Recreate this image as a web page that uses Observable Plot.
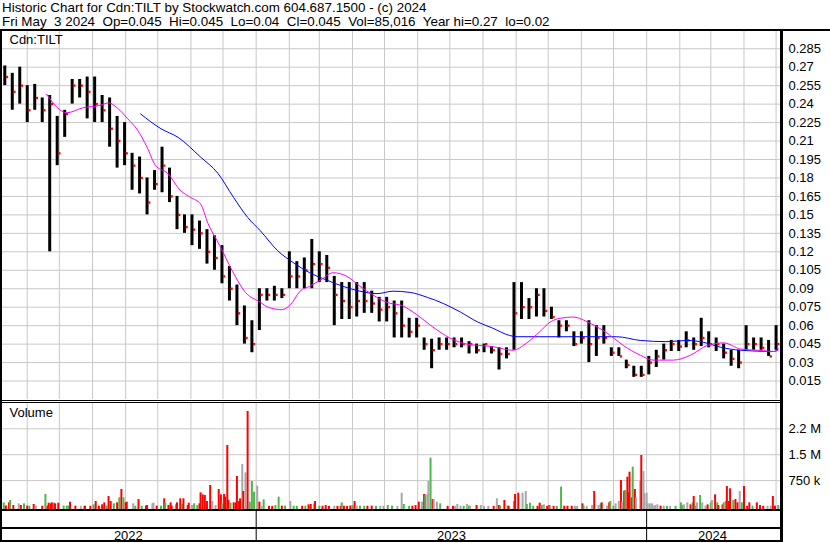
<!DOCTYPE html>
<html><head><meta charset="utf-8">
<script src="https://cdn.jsdelivr.net/npm/d3@7"></script>
<script src="https://cdn.jsdelivr.net/npm/@observablehq/plot@0.6"></script>
<style>
body{margin:0;background:#fff;}
#wrap{position:relative;width:830px;height:543px;overflow:hidden;font-family:"Liberation Sans",Arial,sans-serif;background:#fff;}
.ln{position:absolute;background:#000;}
.hdr{position:absolute;left:2px;font-size:13.4px;white-space:pre;line-height:14px;color:#000;}
#wrap svg{position:absolute;left:0;}
</style></head><body><div id="wrap"></div>
<script>
// ---------- header text ----------
const titleLine = "Historic Chart for Cdn:TILT by Stockwatch.com 604.687.1500 - (c) 2024";
const quoteLine = "Fri May  3 2024  Op=0.045  Hi=0.045  Lo=0.04  Cl=0.045  Vol=85,016  Year hi=0.27  lo=0.02";
const symbolLabel = "Cdn:TILT";
const volumeLabel = "Volume";

// ---------- axes ----------
const xStart = "2022-05-07", xEnd = "2024-05-07";
const priceTicks = [0.015,0.03,0.045,0.06,0.075,0.09,0.105,0.12,0.135,0.15,0.165,0.18,0.195,0.21,0.225,0.24,0.255,0.27,0.285];
const volTicks = [750000, 1500000, 2250000];
const volTickLabels = ["750 k", "1.5 M", "2.2 M"];
const monthGrid = ["2022-06-01","2022-07-01","2022-08-01","2022-09-01","2022-10-01","2022-11-01","2022-12-01",
  "2023-01-01","2023-02-01","2023-03-01","2023-04-01","2023-05-01","2023-06-01","2023-07-01","2023-08-01",
  "2023-09-01","2023-10-01","2023-11-01","2023-12-01","2024-01-01","2024-02-01","2024-03-01","2024-04-01","2024-05-01"];
const yearStarts = ["2023-01-01","2024-01-01"];
const yearNames = ["2022","2023","2024"];

// ---------- weekly price bars (week of Monday, from 2022-05-09) ----------
const firstWeek = "2022-05-09";
const weekHigh = [.271,.265,.27,.255,.256,.245,.247,.23,.235,.26,.26,.262,.262,.247,.245,.23,.225,.2,.197,.18,
  .186,.205,.188,.165,.15,.15,.145,.138,.133,.125,.108,.093,.076,.064,.09,.09,.092,.09,.12,.112,
  .115,.13,.12,.117,.1,.095,.095,.095,.095,.088,.083,.083,.08,.08,.066,.066,.05,.049,.05,.05,
  .05,.05,.047,.045,.045,.043,.042,.042,.095,.095,.082,.09,.09,.075,.064,.064,.055,.055,.064,.06,
  .06,.042,.042,.032,.027,.027,.035,.04,.045,.048,.048,.055,.05,.066,.055,.05,.045,.04,.04,.06,
  .05,.05,.048,.06];
const weekLow = [.255,.235,.24,.225,.235,.225,.12,.19,.213,.24,.245,.228,.225,.225,.205,.188,.19,.17,.167,.15,
  .17,.168,.16,.138,.135,.125,.122,.11,.105,.094,.08,.06,.045,.038,.056,.08,.08,.082,.09,.09,
  .09,.09,.095,.095,.06,.065,.065,.067,.07,.07,.063,.063,.05,.05,.05,.05,.04,.025,.04,.04,
  .042,.042,.037,.037,.038,.037,.024,.033,.04,.065,.065,.067,.067,.065,.05,.055,.043,.045,.03,.035,
  .045,.035,.035,.025,.018,.018,.02,.026,.032,.039,.039,.042,.04,.043,.042,.039,.033,.027,.025,.04,
  .04,.04,.035,.04];
const weekClose = [.262,.25,.255,.235,.245,.235,.24,.2,.232,.255,.255,.25,.24,.235,.22,.21,.2,.19,.18,.16,
  .175,.19,.165,.15,.14,.138,.135,.12,.115,.1,.09,.07,.05,.045,.085,.085,.085,.085,.1,.1,
  .105,.11,.11,.107,.085,.08,.075,.08,.08,.078,.073,.075,.07,.06,.055,.06,.045,.04,.045,.045,
  .045,.045,.045,.04,.045,.04,.037,.037,.07,.075,.075,.085,.072,.067,.06,.06,.045,.05,.045,.05,
  .05,.038,.035,.028,.02,.02,.03,.035,.04,.045,.043,.048,.045,.05,.045,.045,.038,.033,.03,.045,
  .045,.042,.035,.045];

// ---------- moving averages ----------
const maShortDates = ["2022-06-19","2022-07-08","2022-07-23","2022-08-08","2022-08-16","2022-08-24","2022-09-03","2022-09-12","2022-09-21","2022-09-29",
  "2022-10-10","2022-10-22","2022-11-01","2022-11-10","2022-11-17","2022-11-28","2022-12-10","2022-12-22","2023-01-05","2023-01-12",
  "2023-01-25","2023-02-02","2023-02-11","2023-02-20","2023-03-02","2023-03-14","2023-03-27","2023-04-08","2023-04-20","2023-05-03",
  "2023-05-18","2023-05-31","2023-06-15","2023-07-01","2023-07-17","2023-08-10","2023-08-29","2023-09-11","2023-09-23","2023-10-03",
  "2023-10-12","2023-10-24","2023-11-09","2023-11-25","2023-12-10","2023-12-26","2024-01-07","2024-01-26","2024-02-11","2024-02-27",
  "2024-03-13","2024-03-29","2024-04-14","2024-04-29","2024-05-03"];
const maShortValues = [.248,.233,.237,.239,.241,.237,.228,.219,.205,.19,
  .184,.17,.164,.159,.143,.125,.104,.087,.079,.075,
  .073,.077,.088,.092,.097,.103,.1,.092,.085,.079,
  .076,.069,.059,.05,.045,.043,.04,.046,.055,.063,
  .066,.067,.062,.054,.044,.036,.032,.032,.036,.044,
  .046,.041,.04,.039,.04];
const maLongDates = ["2022-09-15","2022-10-04","2022-10-20","2022-11-10","2022-11-26","2022-12-11","2022-12-24","2023-01-05","2023-01-21","2023-02-05",
  "2023-02-20","2023-03-08","2023-03-23","2023-04-08","2023-04-24","2023-05-09","2023-05-25","2023-06-10","2023-06-25","2023-07-11",
  "2023-07-27","2023-08-10","2023-08-26","2023-09-02","2023-09-23","2023-10-31","2023-12-04","2023-12-26","2024-01-20","2024-02-08",
  "2024-02-23","2024-03-10","2024-03-29","2024-04-29","2024-05-03"];
const maLongValues = [.232,.22,.213,.197,.184,.164,.148,.137,.121,.111,
  .103,.097,.092,.088,.086,.088,.087,.083,.078,.071,
  .063,.058,.052,.051,.051,.051,.051,.048,.047,.048,
  .0465,.0425,.04,.039,.041];

// ---------- daily volume (days after xStart, thousands of shares, r=down g=up n=unchanged) ----------
const volDay = [3,5,8,9,12,17,19,22,25,27,31,33,39,42,44,45,47,48,50,51,54,59,62,64,65,70,75,78,79,84,87,89,92,95,97,99,101,103,106,109,
  111,113,115,117,118,124,126,129,132,136,137,142,143,146,150,153,154,157,159,160,164,165,168,170,171,175,176,179,181,184,186,187,189,191,193,196,198,201,204,206,
  207,209,210,212,213,215,218,220,221,223,224,226,227,229,231,233,235,237,240,242,244,246,251,254,257,260,263,266,271,274,277,282,285,288,290,293,294,298,301,304,
  307,312,315,318,319,321,324,327,329,331,333,336,340,343,347,351,355,358,362,366,371,375,377,382,385,388,391,394,396,397,399,400,402,404,405,408,411,418,423,425,
  427,430,433,436,438,439,445,449,452,456,461,464,466,467,471,474,475,480,481,484,488,491,492,495,498,502,504,506,508,511,513,514,517,520,524,527,530,534,537,539,
  544,545,548,553,555,559,561,562,567,569,570,573,575,578,580,581,583,584,586,587,588,590,591,593,594,598,599,601,602,604,605,607,609,611,612,614,617,620,623,626,
  631,636,637,639,642,645,647,648,650,651,654,656,659,661,664,665,668,670,671,675,676,678,679,681,682,685,687,689,691,693,695,698,700,703,707,710,713,717,720,722,724,727];
const volK = [106,15,106,174,29,77,29,77,12,8,58,12,8,347,8,97,77,106,97,77,97,12,12,12,125,12,5,5,8,5,48,145,8,48,106,12,290,145,77,106,
  251,492,251,106,125,77,8,203,8,12,29,77,97,12,8,222,106,29,106,12,48,106,222,58,222,29,97,29,77,29,77,396,338,319,145,608,145,29,492,338,
  77,347,270,1766,174,97,106,106,869,145,222,1216,434,975,2751,125,724,415,589,125,10,193,5,5,29,270,12,12,145,8,5,8,8,48,58,77,145,5,8,29,
  5,8,5,8,106,8,5,12,29,145,12,12,5,8,12,5,12,5,29,12,5,386,58,5,8,29,125,125,347,319,347,724,1400,203,203,125,77,5,5,5,
  58,12,5,58,12,5,29,29,5,3,5,222,29,8,174,12,8,145,347,386,386,434,58,97,8,5,97,29,48,5,29,5,5,5,560,8,8,8,5,5,
  77,12,5,29,434,29,77,106,12,106,145,8,77,145,753,125,444,463,849,396,994,251,1139,492,241,724,1477,1014,367,386,77,77,77,12,29,48,8,8,5,5,
  5,106,29,48,106,48,106,290,12,106,319,106,12,48,106,174,338,106,29,48,106,145,579,145,512,174,203,106,434,106,579,8,106,8,106,29,8,5,8,290,8,29];
const volDir = ("grrgrnrgrgrnrgrrrrgrrgggrrnnrrgrrrrgrrgr" +
  "grgrrngrgrrnnrgrgrrrgrrgrrrnggrrrrrrnnrr" +
  "grrrrgrrrrrnrnrgggnrngrrggrgnggrgrrnrgrr" +
  "rnrrgrrrgrnggrrgnnggnnggrrrnrgnngrnngrrn" +
  "nngngnrnnnrnrgrgrgrrnngggrrgnrrnrggrrrnn" +
  "rgnnrngrnrggnnrnrgrrrrgrnnrnnnnnnnnnrngn" +
  "gggnnrgrgngnnrgnrgrrggrrrgrrngrrrgrrrnnrrgnn").split("");
const volColors = {r: "#ff0000", g: "#4cb84c", n: "#a8a8a8"};

// ---------- build tables ----------
const FONT = '"Liberation Sans", Arial, sans-serif';
const GRID = "#c8c8c8";
const day = s => new Date(s + "T00:00:00Z");
const x0 = day(xStart), x1 = day(xEnd);
const xScale = {type: "utc", domain: [x0, x1], axis: null};
const weeks = weekHigh.map((h, i) => {
  const mon = d3.utcDay.offset(day(firstWeek), 7 * i);
  return {mid: d3.utcDay.offset(mon, 2), end: d3.utcDay.offset(mon, 4.3), hi: h, lo: weekLow[i], close: weekClose[i]};
});
const maShort = maShortDates.map((d, i) => ({date: day(d), v: maShortValues[i]}));
const maLong = maLongDates.map((d, i) => ({date: day(d), v: maLongValues[i]}));
const volFloor = -87000;
const vols = volDay.map((d, i) => ({date: d3.utcDay.offset(x0, d), v: volK[i] * 1000, c: volColors[volDir[i]] || volColors.n}));
const months = monthGrid.map(day);
const volLabelOf = new Map(volTicks.map((t, i) => [t, volTickLabels[i]]));
const ys = yearStarts.map(day);
const bounds = [x0, ...ys, d3.utcDay.offset(x1, -4)];
const years = yearNames.map((y, i) => ({label: y, mid: new Date((+bounds[i] + +bounds[i + 1]) / 2)}));

const baseStyle = {fontFamily: FONT, fontSize: "13px", color: "#000", background: "transparent", overflow: "visible"};

const pricePlot = Plot.plot({
  width: 830, height: 369, marginLeft: 0, marginRight: 48, marginTop: 0, marginBottom: 1,
  style: baseStyle,
  x: xScale,
  y: {domain: [0, 0.299], axis: "right", ticks: priceTicks, tickSize: 0, tickPadding: 6, label: null,
      tickFormat: d => String(+d.toFixed(3))},
  marks: [
    Plot.ruleY(priceTicks, {stroke: GRID, strokeWidth: 1}),
    Plot.ruleX(months, {stroke: GRID, strokeWidth: 1}),
    Plot.ruleX(weeks, {x: "mid", y1: "lo", y2: "hi", stroke: "#000", strokeWidth: 3}),
    Plot.dot(weeks, {x: "end", y: "close", symbol: "square", r: 1.3, fill: "#ff0000", stroke: null}),
    Plot.line(maLong, {x: "date", y: "v", stroke: "#0000ff", strokeWidth: 1, curve: "monotone-x"}),
    Plot.line(maShort, {x: "date", y: "v", stroke: "#ff00ff", strokeWidth: 1, curve: "monotone-x"}),
    Plot.text([symbolLabel], {frameAnchor: "top-left", dx: 9, dy: 3, lineAnchor: "top", fill: "#000"})
  ]
});
pricePlot.style.top = "31px";

const volPlot = Plot.plot({
  width: 830, height: 106, marginLeft: 0, marginRight: 48, marginTop: 0, marginBottom: 0,
  style: baseStyle,
  x: xScale,
  color: {type: "identity"},
  y: {domain: [volFloor, 2983000], axis: "right", ticks: volTicks, tickSize: 0, tickPadding: 6, label: null,
      tickFormat: d => volLabelOf.get(d)},
  marks: [
    Plot.ruleY(volTicks, {stroke: GRID, strokeWidth: 1}),
    Plot.ruleX(months, {stroke: GRID, strokeWidth: 1}),
    Plot.ruleX(vols, {x: "date", y1: volFloor, y2: "v", stroke: "c", strokeWidth: 2}),
    Plot.text([volumeLabel], {frameAnchor: "top-left", dx: 9, dy: 4, lineAnchor: "top", fill: "#000"})
  ]
});
volPlot.style.top = "403px";

const bandPlot = Plot.plot({
  width: 830, height: 29, marginLeft: 0, marginRight: 48, marginTop: 0, marginBottom: 0,
  style: baseStyle,
  x: xScale,
  marks: [
    Plot.ruleX(ys, {stroke: "#000", strokeWidth: 1}),
    Plot.text(years, {x: "mid", text: "label", frameAnchor: "bottom", dy: -1, lineAnchor: "bottom", fill: "#000"})
  ]
});
bandPlot.style.top = "511px";

const wrap = document.getElementById("wrap");
const h1 = document.createElement("div"); h1.className = "hdr"; h1.style.top = "1px"; h1.textContent = titleLine;
const h2 = document.createElement("div"); h2.className = "hdr"; h2.style.top = "15px"; h2.textContent = quoteLine;
wrap.append(h1, h2, pricePlot, volPlot, bandPlot);
const lines = [
  [0, 29, 830, 2], [0, 29, 2, 513], [780, 29, 3, 513],
  [0, 400, 781, 1], [0, 402, 781, 1], [0, 509, 781, 2], [0, 527, 781, 2], [0, 540, 783, 2]
];
for (const [l, t, w, h] of lines) {
  const d = document.createElement("div"); d.className = "ln";
  Object.assign(d.style, {left: l + "px", top: t + "px", width: w + "px", height: h + "px"});
  wrap.append(d);
}
</script></body></html>
